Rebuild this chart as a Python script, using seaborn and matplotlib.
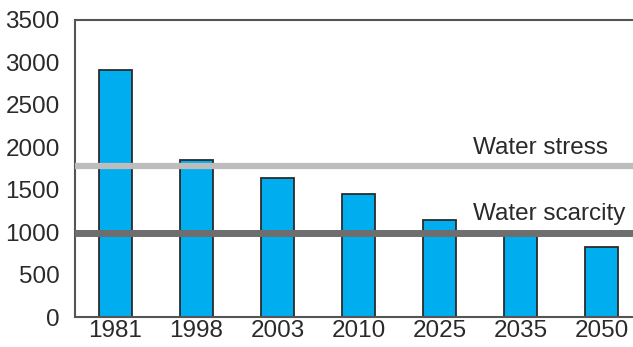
import numpy as np
import pandas as pd
import matplotlib.pyplot as plt
import seaborn as sb

sb.set_style("white")
plt.rcParams['font.family'] = ['Liberation Sans', 'DejaVu Sans']

years = ['1981', '1998', '2003', '2010', '2025', '2035', '2050']
water = [2910, 1850, 1635, 1450, 1145, 1000, 825]
stress_level = 1785
scarcity_level = 990

df = pd.DataFrame({'year': years, 'water': water})

fig = plt.figure(figsize=(6.33, 3.47), dpi=100)
ax = fig.add_axes([75 / 633, 30 / 347, 558 / 633, 297 / 347])

sb.barplot(x='year', y='water', data=df, order=years, color='#00aeef',
           saturation=1, width=0.41, edgecolor='#2b2b2b', linewidth=1.3, ax=ax)

ax.axhline(stress_level, color='#bdbdbd', lw=4.5, zorder=3)
ax.axhline(scarcity_level, color='#6e6e6e', lw=5, zorder=3)
ax.text(4.41, stress_level + 205, 'Water stress', fontsize=17.5, color='#2a2a2a',
        va='center', ha='left')
ax.text(4.41, scarcity_level + 225, 'Water scarcity', fontsize=17.5, color='#2a2a2a',
        va='center', ha='left')

ax.set_ylim(0, 3500)
ax.set_xlim(-0.5, 6.39)
ax.set_yticks(range(0, 3501, 500))
ax.set_xlabel('')
ax.set_ylabel('')

# ticks between the categories, labels at the centres
ax.set_xticks(np.arange(0.5, 6, 1), minor=False)
ax.set_xticklabels([])
ax.set_xticks(range(len(years)), minor=True)
ax.set_xticklabels(years, minor=True)
ax.tick_params(axis='x', which='minor', length=0, labelsize=17.5, colors='#2a2a2a', pad=2)
ax.tick_params(axis='x', which='major', length=5, width=1.2, color='#555555', direction='out')
ax.tick_params(axis='y', length=5, width=1.2, color='#555555', direction='out',
               labelsize=17.5, labelcolor='#2a2a2a', pad=6)

for side in ['left', 'bottom', 'top']:
    ax.spines[side].set_color('#555555')
    ax.spines[side].set_linewidth(1.5)
ax.spines['right'].set_visible(False)

fig.savefig('out.png', dpi=100)
